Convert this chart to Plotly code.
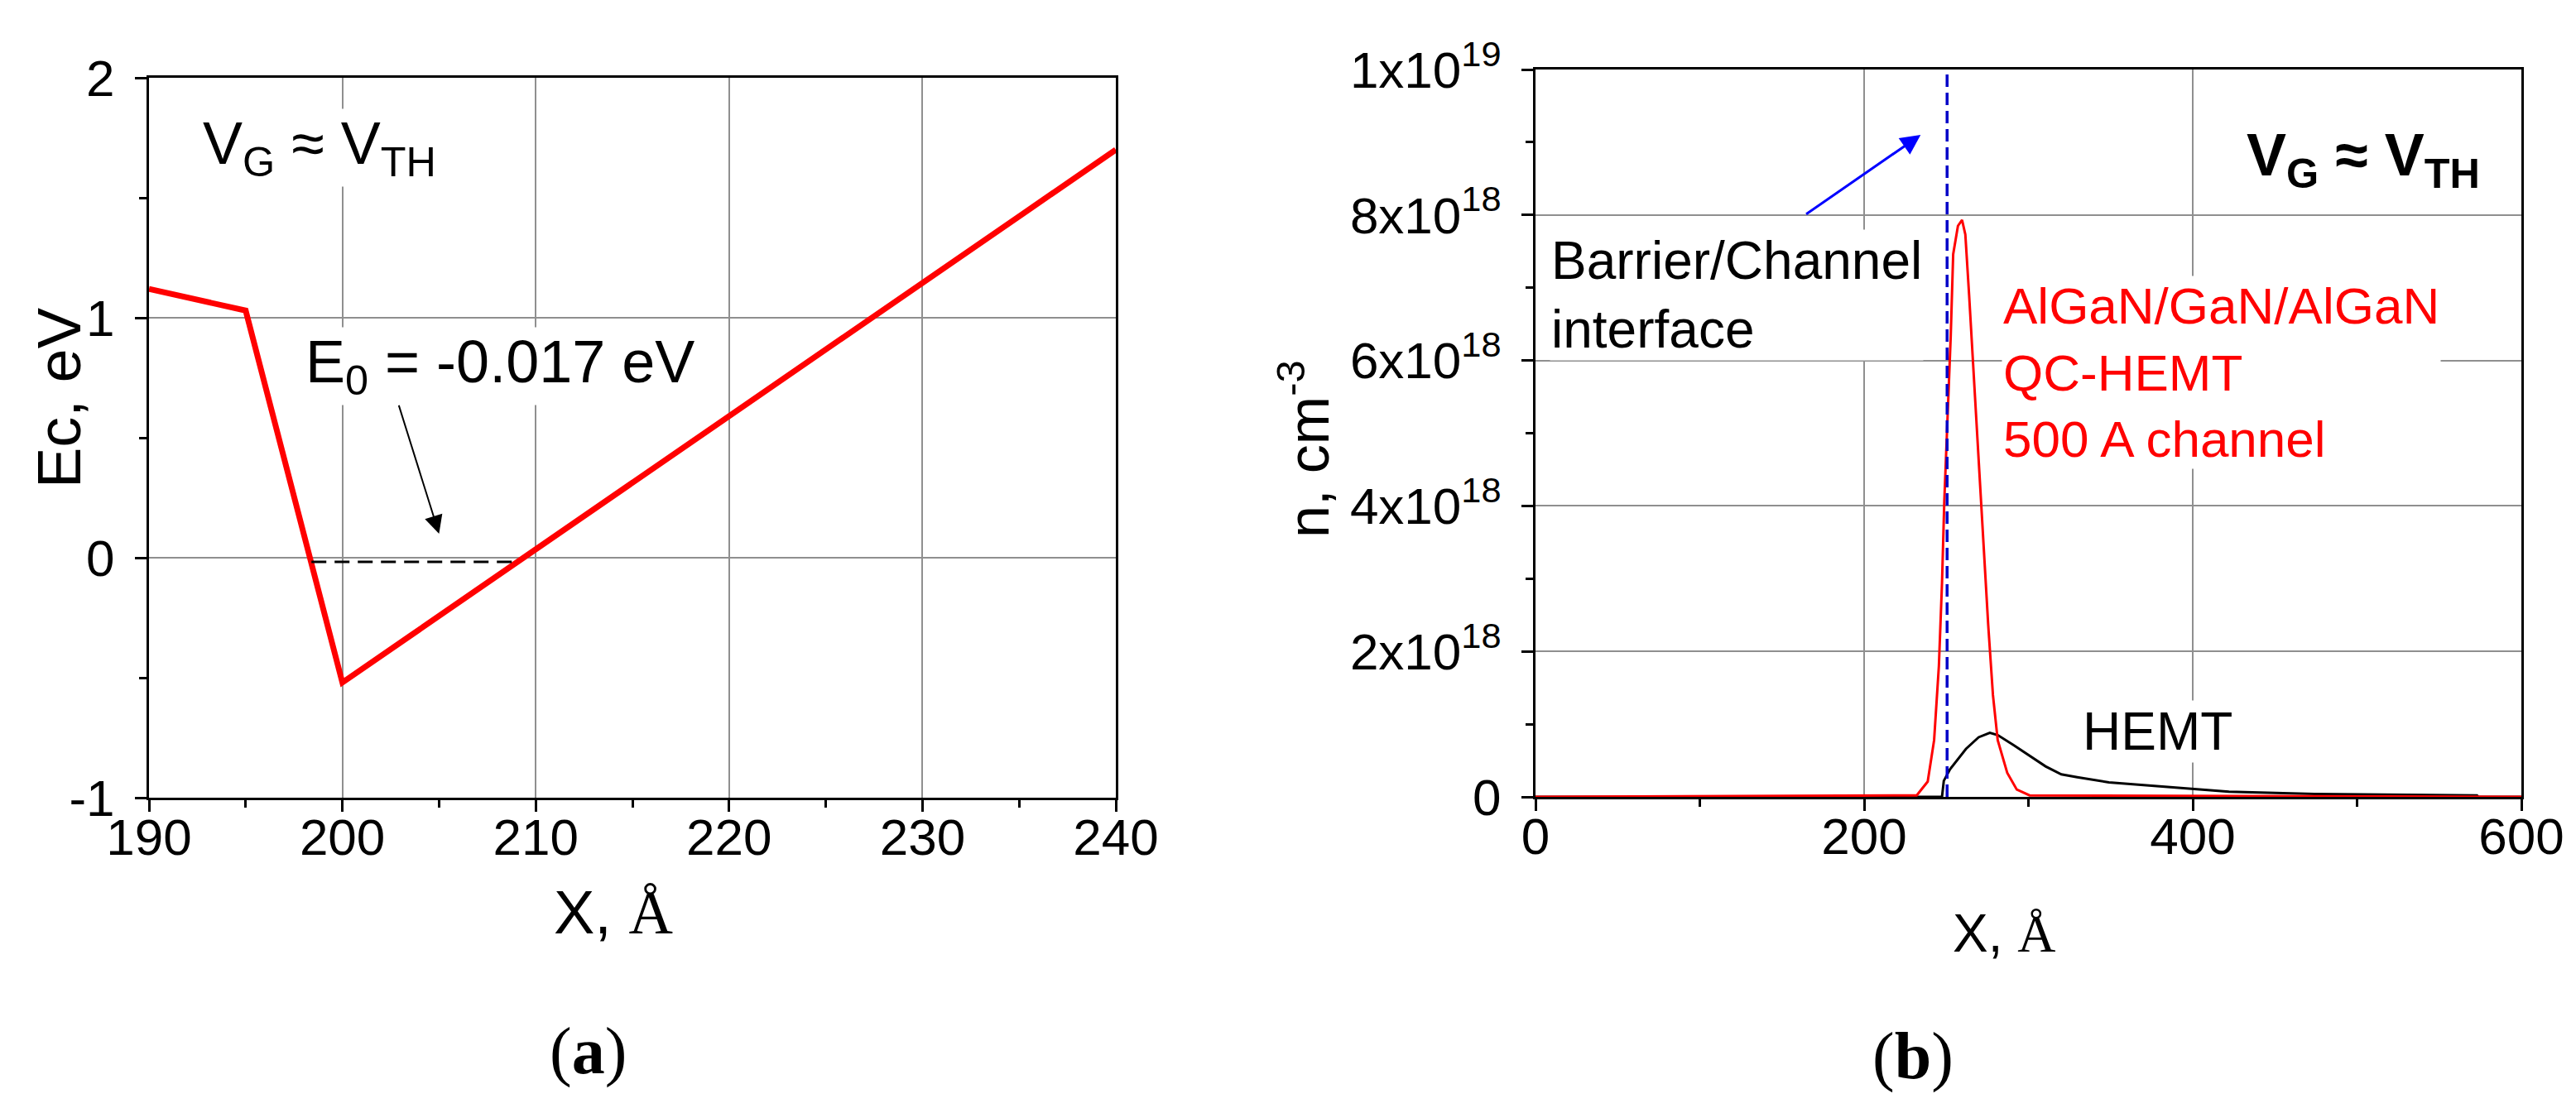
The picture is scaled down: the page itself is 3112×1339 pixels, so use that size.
import numpy as np
import plotly.graph_objects as go

W, H = 3112, 1339

# panel (a): conduction band edge
x_ec = [190, 195, 200, 240]
ec = [1.12, 1.03, -0.52, 1.70]
x_e0 = [198.4, 209.0]
e0 = [-0.017, -0.017]
ec_ticks = [-1, 0, 1, 2]
ec_ticktext = ["-1", "0", "1", "2"]

# panel (b): electron density, in units of 1e18 cm^-3
x_qc = [0, 232, 238.7, 242.6, 245.5, 247.4, 248.8, 250.9, 252.7, 254.2, 257.1, 259.6,
        261.6, 263.9, 266.8, 269.7, 272.6, 275.5, 278.4, 281.3, 287.1, 292.9, 300.7, 600]
n_qc = [0, 0.02, 0.21, 0.78, 1.8, 2.94, 4.07, 5.2, 6.33, 7.46, 7.85, 7.93,
        7.73, 6.9, 5.76, 4.63, 3.5, 2.37, 1.40, 0.78, 0.33, 0.10, 0.02, 0]
x_hemt = [0, 247.4, 248.5, 252.3, 262, 269.7, 276.5, 281.3, 291, 300.7, 310.4, 320,
          329.7, 349, 378, 400, 422, 474, 573, 574, 600]
n_hemt = [0, 0, 0.22, 0.38, 0.66, 0.82, 0.88, 0.85, 0.71, 0.56, 0.42, 0.31,
          0.27, 0.20, 0.15, 0.11, 0.07, 0.04, 0.02, 0, 0]
x_interface = 250.5
n_ticks = [0, 2, 4, 6, 8, 10]
n_ticktext = ["0", "2x10<sup>18</sup>", "4x10<sup>18</sup>", "6x10<sup>18</sup>",
              "8x10<sup>18</sup>", "1x10<sup>19</sup>"]

E18 = 1e18
FONT = "Liberation Sans"
SERIF = "Liberation Serif"
GRID = "#8f8f8f"


def px(x, y):
    # figure pixel -> paper coords (margins are zero)
    return x / W, 1 - y / H


fig = go.Figure()

fig.add_trace(go.Scatter(x=x_ec, y=ec, mode="lines", line=dict(color="#ff0000", width=7),
                         xaxis="x", yaxis="y", showlegend=False))
fig.add_trace(go.Scatter(x=x_e0, y=e0, mode="lines", line=dict(color="black", width=3, dash="18px,10px"),
                         xaxis="x", yaxis="y", showlegend=False))

fig.add_trace(go.Scatter(x=x_hemt, y=np.array(n_hemt) * E18, mode="lines",
                         line=dict(color="black", width=3), xaxis="x2", yaxis="y2", showlegend=False))
fig.add_trace(go.Scatter(x=x_qc, y=np.array(n_qc) * E18, mode="lines",
                         line=dict(color="#ff0000", width=3), xaxis="x2", yaxis="y2", showlegend=False))
fig.add_trace(go.Scatter(x=[x_interface, x_interface], y=[0, 10 * E18], mode="lines",
                         line=dict(color="#0000c8", width=3.5, dash="15px,7px"),
                         xaxis="x2", yaxis="y2", showlegend=False))

axis_common = dict(
    showline=True, linecolor="black", linewidth=3, mirror=True,
    ticks="outside", ticklen=14, tickwidth=3, tickcolor="black",
    showgrid=True, gridcolor=GRID, gridwidth=2, zeroline=False,
    tickfont=dict(family=FONT, size=62, color="black"),
    layer="below traces", automargin=False,
)

fig.update_layout(
    width=W, height=H,
    margin=dict(l=0, r=0, t=0, b=0),
    paper_bgcolor="white", plot_bgcolor="white",
    font=dict(family=FONT, color="black"),
    xaxis=dict(axis_common, domain=[172 / W, 1340 / W], range=[190, 240],
               tickvals=[190, 200, 210, 220, 230, 240], ticklabelstandoff=-22,
               minor=dict(ticks="outside", ticklen=9, tickwidth=3, dtick=5, tick0=190, showgrid=False)),
    yaxis=dict(axis_common, domain=[1 - 956 / H, 1 - 86 / H], range=[-1, 2],
               tickvals=ec_ticks, ticktext=ec_ticktext, ticklabelstandoff=12,
               minor=dict(ticks="outside", ticklen=9, tickwidth=3, dtick=0.5, tick0=-1, showgrid=False)),
    xaxis2=dict(axis_common, domain=[1847 / W, 3038 / W], range=[0, 600], anchor="y2",
                tickvals=[0, 200, 400, 600], ticklabelstandoff=-22,
                minor=dict(ticks="outside", ticklen=9, tickwidth=3, dtick=100, tick0=0, showgrid=False)),
    yaxis2=dict(axis_common, domain=[1 - 955 / H, 1 - 76 / H], range=[0, 10 * E18], anchor="x2",
                tickvals=[v * E18 for v in n_ticks], ticktext=n_ticktext, ticklabelstandoff=12,
                minor=dict(ticks="outside", ticklen=9, tickwidth=3, dtick=E18, tick0=0, showgrid=False)),
)

ann = []

# axis titles and captions
def paper_text(text, x, y, size, angle=0, family=FONT):
    xp, yp = px(x, y)
    ann.append(dict(text=text, x=xp, y=yp, xref="paper", yref="paper", showarrow=False,
                    textangle=angle, xanchor="center", yanchor="middle",
                    font=dict(family=family, size=size, color="black")))

angstrom = "<span style=\"font-family:'Liberation Serif'\">Å</span>"
paper_text("Ec, eV", 63, 472, 74, angle=-90)
paper_text("X, " + angstrom, 733, 1094, 74)
paper_text("n, cm<sup>-3</sup>", 1568, 535, 70, angle=-90)
paper_text("X, " + angstrom, 2413, 1120, 64)
paper_text("(<b>a</b>)", 702, 1262, 80, family=SERIF)
paper_text("(<b>b</b>)", 2303, 1268, 80, family=SERIF)

# panel (a) labels
ann.append(dict(text="V<sub>G</sub> ≈ V<sub>TH</sub>", x=192.7, y=1.71, xref="x", yref="y",
                showarrow=False, xanchor="left", yanchor="middle", bgcolor="white",
                font=dict(family=FONT, size=72, color="black")))
ann.append(dict(text="E<sub>0</sub> = -0.017 eV", x=198.0, y=0.80, xref="x", yref="y",
                showarrow=False, xanchor="left", yanchor="middle", bgcolor="white",
                font=dict(family=FONT, size=72, color="black")))
ann.append(dict(text="", x=205.0, y=0.10, ax=202.9, ay=0.64, xref="x", yref="y",
                axref="x", ayref="y", showarrow=True, arrowhead=2, arrowsize=2.2,
                arrowwidth=2, arrowcolor="black"))

# panel (b) labels
ann.append(dict(text="Barrier/Channel<br>interface", x=8.8, y=6.9 * E18, xref="x2", yref="y2",
                showarrow=False, xanchor="left", yanchor="middle", align="left", bgcolor="white",
                font=dict(family=FONT, size=64, color="black")))
ann.append(dict(text="", x=234.4, y=9.1 * E18, ax=164.0, ay=8.0 * E18, xref="x2", yref="y2",
                axref="x2", ayref="y2", showarrow=True, arrowhead=2, arrowsize=1.6,
                arrowwidth=3, arrowcolor="#0000ff"))
ann.append(dict(text="AlGaN/GaN/AlGaN<br>QC-HEMT<br>500 A channel", x=283.7, y=5.84 * E18,
                xref="x2", yref="y2", showarrow=False, xanchor="left", yanchor="middle",
                align="left", bgcolor="white", font=dict(family=FONT, size=62, color="#ff0000")))
ann.append(dict(text="HEMT", x=332, y=0.9 * E18, xref="x2", yref="y2", showarrow=False,
                xanchor="left", yanchor="middle", bgcolor="white",
                font=dict(family=FONT, size=64, color="black")))
ann.append(dict(text="<b>V<sub>G</sub> ≈ V<sub>TH</sub></b>", x=431.5, y=8.77 * E18, xref="x2", yref="y2",
                showarrow=False, xanchor="left", yanchor="middle",
                font=dict(family=FONT, size=72, color="black")))

fig.update_layout(annotations=ann)
fig.write_html("out.html")
